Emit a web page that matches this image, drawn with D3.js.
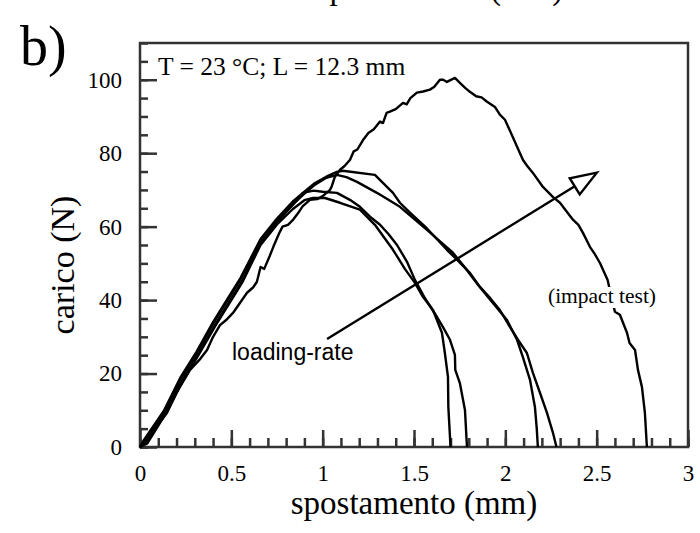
<!DOCTYPE html>
<html>
<head>
<meta charset="utf-8">
<script src="https://cdn.jsdelivr.net/npm/d3@7"></script>
<style>
  body { margin: 0; background: #fff; }
  text { font-family: "Liberation Serif", "Times New Roman", serif; fill: #000; }
  .frame { fill: none; stroke: #333; stroke-width: 2.5; }
  .axis line { stroke: #333; stroke-width: 2.5; }
  .axis text { font-size: 23px; }
  .curve { fill: none; stroke: #000; stroke-width: 2.4; stroke-linejoin: round; }
</style>
</head>
<body>
<svg width="700" height="533"></svg>
<script>
const svg = d3.select('svg');

// tick labels
const xTicks = [0, 0.5, 1, 1.5, 2, 2.5, 3];
const yTicks = [0, 20, 40, 60, 80, 100];

// curves [spostamento mm, carico N]
const impactTest = [[0,0],[0.06,3.5],[0.148,9.3],[0.208,15.5],[0.274,21],[0.33,24],[0.367,26.4],[0.40,30],
  [0.438,33.2],[0.47,34.5],[0.509,36.5],[0.547,39.2],[0.586,42],[0.62,43.5],[0.64,45],[0.66,49],[0.68,48.5],
  [0.71,52],[0.73,54.5],[0.76,58],[0.78,60],[0.81,60.5],[0.84,62],[0.87,64],[0.89,65.5],[0.93,67.3],[0.97,67.5],
  [1.0,68.3],[1.04,70],[1.05,71],[1.067,73.6],[1.095,75.5],[1.12,76.5],[1.15,78.2],[1.17,80.5],[1.19,81],
  [1.22,83.5],[1.25,85.5],[1.28,86.5],[1.314,88.6],[1.33,88.2],[1.35,91],[1.368,91.3],[1.40,92],[1.44,93.7],
  [1.46,93.3],[1.48,95],[1.516,96.5],[1.55,96.8],[1.587,97.3],[1.61,98],[1.642,100],[1.66,100],[1.68,99.4],
  [1.724,100.5],[1.75,99.2],[1.78,97.8],[1.806,96.7],[1.84,95.5],[1.87,95.2],[1.9,94],[1.943,92.6],[1.97,90.5],
  [1.998,89.1],[2.04,84.5],[2.096,78.2],[2.12,76.5],[2.15,74.7],[2.206,70.8],[2.26,68.1],[2.299,66.5],
  [2.37,61.9],[2.40,60.5],[2.425,58.3],[2.463,54.5],[2.49,52.5],[2.518,50.1],[2.56,45.5],[2.58,41],[2.6,36.8],
  [2.627,36],[2.666,31.1],[2.68,28.3],[2.71,26.4],[2.726,21],[2.748,16.3],[2.764,9.3],[2.775,0]];

const rate1 = [[0,0],[0.02,1.8],[0.13,9.8],[0.22,18.8],[0.31,26],[0.40,34],[0.49,41.2],[0.55,46],[0.66,56.6],
  [0.75,62.2],[0.84,67],[0.9,69.5],[0.958,71.9],[1.02,73.6],[1.078,74.9],[1.11,75.2],[1.286,74.1],[1.385,69.2],
  [1.423,66.5],[1.478,63.8],[1.571,59.5],[1.68,53.7],[1.735,51],[1.806,47.4],[1.861,43.6],[1.916,40.6],
  [1.97,37.3],[2.025,32.7],[2.069,29.2],[2.118,25.6],[2.151,20.2],[2.19,14.7],[2.228,9.3],[2.26,4],[2.28,0]];

const rate2 = [[0,0],[0.03,1.5],[0.13,9.3],[0.22,18.3],[0.31,25.6],[0.40,33.6],[0.49,40.8],[0.55,45.6],[0.66,56],
  [0.75,61.6],[0.84,66.2],[0.9,69],[0.96,71.5],[1.02,73.3],[1.078,74.1],[1.13,73.5],[1.188,72.2],[1.297,69.2],
  [1.423,65.4],[1.571,59.1],[1.713,52.9],[1.78,48.8],[1.85,44.2],[1.932,39.2],[2.009,34.6],[2.064,29.2],
  [2.096,24.5],[2.135,18.3],[2.162,10.9],[2.172,5],[2.178,0]];

const rate3 = [[0,0],[0.03,1.2],[0.13,9],[0.23,18],[0.32,25.5],[0.41,33.2],[0.5,40.5],[0.56,45.2],[0.66,55.5],
  [0.75,61.2],[0.837,66],[0.892,69.2],[0.95,69.8],[1.0,69.5],[1.078,69.2],[1.149,67.3],[1.204,65.4],[1.259,62.7],
  [1.314,60.5],[1.36,58],[1.407,55],[1.461,50.5],[1.505,45.5],[1.56,40.5],[1.626,35.4],[1.658,32.7],[1.697,29.2],
  [1.724,25.1],[1.726,21],[1.751,17.4],[1.779,10.1],[1.79,0]];

const rate4 = [[0,0],[0.04,1],[0.14,9],[0.23,17.6],[0.32,25],[0.41,32.8],[0.5,40],[0.56,44.8],[0.66,55],
  [0.75,60.6],[0.837,64.8],[0.9,67.2],[0.947,67.8],[1.013,67.8],[1.095,66.5],[1.204,64.6],[1.286,60.5],
  [1.385,53.7],[1.45,48.5],[1.505,44.7],[1.549,40.9],[1.604,37.3],[1.653,31.1],[1.669,25.6],[1.686,19.1],
  [1.688,10.9],[1.70,0]];

// loading-rate arrow, from tail to tip
const rateArrow = [[1.024, 29.4], [2.501, 74.7]];

const x = d3.scaleLinear().domain([0, 3]).range([140, 688]);
const y = d3.scaleLinear().domain([0, 110]).range([447, 43]);

const line = d3.line().x(d => x(d[0])).y(d => y(d[1]));

// minor ticks
svg.append('g')
    .attr('class', 'axis')
    .attr('transform', `translate(0,${y(0)})`)
    .call(d3.axisBottom(x).ticks(30).tickSize(-9).tickFormat(''))
    .call(g => g.select('.domain').remove());
svg.append('g')
    .attr('class', 'axis')
    .attr('transform', `translate(${x(0)},0)`)
    .call(d3.axisLeft(y).ticks(22).tickSize(-8).tickFormat(''))
    .call(g => g.select('.domain').remove());

// major ticks
svg.append('g')
    .attr('class', 'axis')
    .attr('transform', `translate(0,${y(0)})`)
    .call(d3.axisBottom(x).tickValues(xTicks).tickSize(-17).tickPadding(18).tickFormat(String))
    .call(g => g.select('.domain').remove());
svg.append('g')
    .attr('class', 'axis')
    .attr('transform', `translate(${x(0)},0)`)
    .call(d3.axisLeft(y).tickValues(yTicks).tickSize(-17).tickPadding(18).tickFormat(String))
    .call(g => g.select('.domain').remove());

svg.append('rect')
    .attr('class', 'frame')
    .attr('x', x(0)).attr('y', y(110))
    .attr('width', x(3) - x(0)).attr('height', y(0) - y(110));

[rate1, rate2, rate3, rate4, impactTest].forEach(c => {
  svg.append('path').attr('class', 'curve').attr('d', line(c));
});

// arrow
const [a0, a1] = rateArrow.map(d => [x(d[0]), y(d[1])]);
const ang = Math.atan2(a1[1] - a0[1], a1[0] - a0[0]);
const headLen = 26, headW = 9.5;
const base = [a1[0] - headLen * Math.cos(ang), a1[1] - headLen * Math.sin(ang)];
svg.append('line')
    .attr('x1', a0[0]).attr('y1', a0[1])
    .attr('x2', base[0]).attr('y2', base[1])
    .attr('stroke', '#000').attr('stroke-width', 2.4);
svg.append('path')
    .attr('d', d3.line()([
      a1,
      [base[0] + headW * Math.sin(ang), base[1] - headW * Math.cos(ang)],
      [base[0] - headW * Math.sin(ang), base[1] + headW * Math.cos(ang)]
    ]) + 'Z')
    .attr('fill', '#fff').attr('stroke', '#000').attr('stroke-width', 2.4)
    .attr('stroke-linejoin', 'miter');

// labels
const impactLabel = svg.append('text')
    .attr('x', 602).attr('y', 303)
    .attr('text-anchor', 'middle')
    .style('font-size', '21.5px')
    .text('(impact test)');
const bb = impactLabel.node().getBBox();
svg.insert('rect', () => impactLabel.node())
    .attr('x', bb.x).attr('y', bb.y + 3)
    .attr('width', bb.width).attr('height', bb.height - 3)
    .attr('fill', '#fff');

svg.append('text')
    .attr('x', 232).attr('y', 360)
    .style('font-family', '"Liberation Sans", Arial, sans-serif')
    .style('font-size', '23px')
    .text('loading-rate');

svg.append('text')
    .attr('x', 158).attr('y', 75)
    .style('font-size', '25.5px')
    .text('T = 23 °C; L = 12.3 mm');

svg.append('text')
    .attr('x', 414).attr('y', 514)
    .attr('text-anchor', 'middle')
    .style('font-size', '33px')
    .text('spostamento (mm)');

svg.append('text')
    .attr('transform', 'translate(74,265) rotate(-90)')
    .attr('text-anchor', 'middle')
    .style('font-size', '34px')
    .text('carico (N)');

svg.append('text')
    .attr('x', 20).attr('y', 65)
    .style('font-size', '56px')
    .text('b)');

// bottom of the upper panel's axis title, cut by the crop
svg.append('text')
    .attr('x', 440).attr('y', -1)
    .attr('text-anchor', 'middle')
    .style('font-size', '33px')
    .text('spostamento (mm)');
</script>
</body>
</html>
